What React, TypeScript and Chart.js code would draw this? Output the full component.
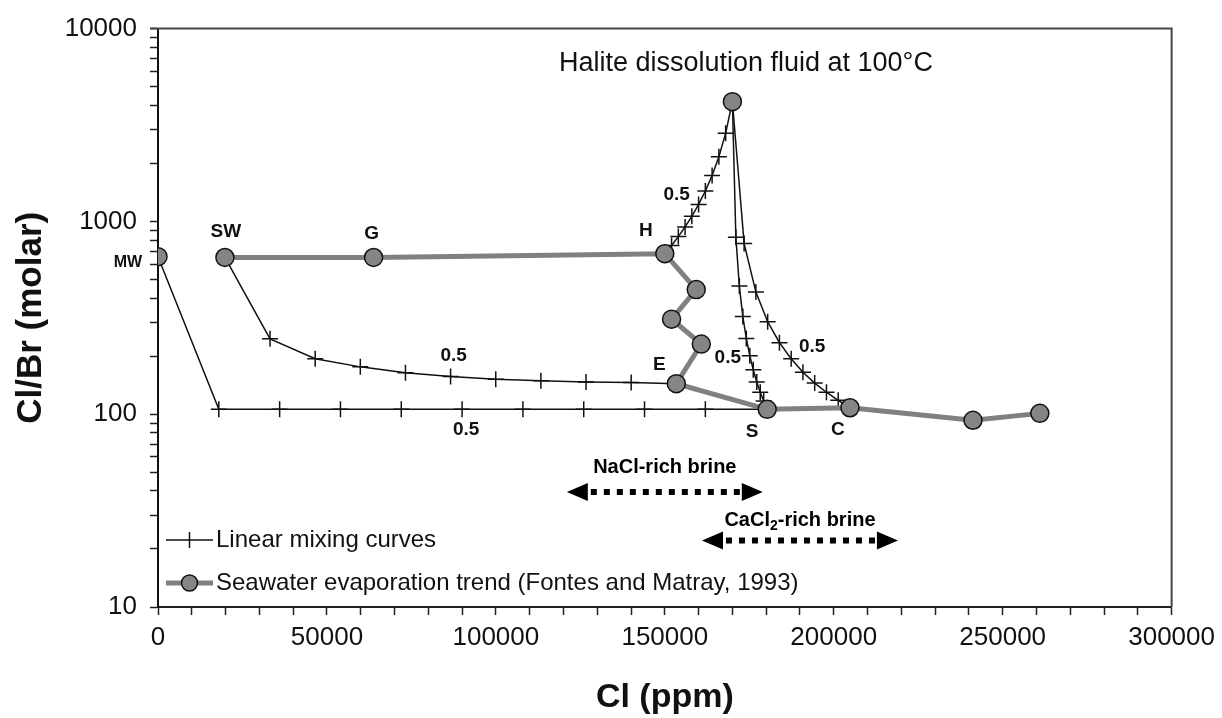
import React, { useEffect, useRef } from 'react';
import { Chart, registerables } from 'chart.js';

Chart.register(...registerables);

const FONT = '"Liberation Sans", Arial, Helvetica, sans-serif';

// ---------------- data (Cl in ppm, Cl/Br molar) ----------------
// Seawater evaporation trend (Fontes and Matray, 1993): SW, G, H, ..., E, S, C, ...
const trendCl = [19800, 63800, 150000, 159300, 152000, 160800, 153400, 180300, 204800, 241200, 261000];
const trendRatio = [650, 650, 680, 443, 311, 231, 144, 106, 108, 93, 101];

// isolated end-members: MW (meteoric water) and halite dissolution fluid at 100°C
const endCl = [0, 170000];
const endRatio = [656, 4180];

// linear mixing curves
const mixMwSCl = [0, 18000, 36000, 54000, 72000, 90000, 108000, 126000, 144000, 162000, 180300];
const mixMwSRatio = [656, 106, 106, 106, 106, 106, 106, 106, 106, 106, 106];

const mixSwECl = [19800, 33160, 46520, 59880, 73240, 86600, 99960, 113320, 126680, 140040, 153400];
const mixSwERatio = [650, 246, 194, 176, 164, 157, 152, 149, 147, 146, 144];

const mixHTCl = [150000, 152000, 154000, 156000, 158000, 160000, 162000, 164000, 166000, 168000, 170000];
const mixHTRatio = [680, 750, 834, 936, 1063, 1225, 1438, 1732, 2164, 2862, 4180];

const mixTSCl = [170000, 171030, 172060, 173090, 174120, 175150, 176180, 177210, 178240, 179270, 180300];
const mixTSRatio = [4180, 827, 462, 321, 247, 201, 170, 147, 130, 117, 106];

const mixTCCl = [170000, 173480, 176960, 180440, 183920, 187400, 190880, 194360, 197840, 201320, 204800];
const mixTCRatio = [4180, 767, 430, 302, 235, 194, 165, 145, 130, 118, 108];

// axis ticks
const xTickLabels = [0, 50000, 100000, 150000, 200000, 250000, 300000];
const xMinorStep = 10000;
const yTickLabels = [10, 100, 1000, 10000];

// point labels (data position of the point they name)
const pointLabelText = ['MW', 'SW', 'G', 'H', 'E', 'S', 'C', '0.5', '0.5', '0.5', '0.5', '0.5'];
const pointLabelCl = [0, 19800, 63800, 150000, 153400, 180300, 204800, 86600, 90000, 160000, 175150, 187400];
const pointLabelRatio = [656, 650, 650, 680, 144, 106, 108, 157, 106, 1225, 201, 194];
const pointLabelOffset = [[-30, 6], [1, -26], [-2, -24], [-19, -23], [-17, -19], [-15, 22], [-12, 22], [3, -21], [4, 20], [-22, -10], [-22, 2], [21, -12]];

// brine range arrows
const brineLabels = ['NaCl-rich brine', 'CaCl2-rich brine'];
const brineFrom = [121000, 161000];
const brineTo = [179000, 219000];
const brineRatio = [39.5, 22.1];

const titleText = 'Halite dissolution fluid at 100°C';
const legendTexts = ['Linear mixing curves', 'Seawater evaporation trend (Fontes and Matray, 1993)'];

const toXY = (xs: number[], ys: number[]) => xs.map((x, i) => ({ x, y: ys[i] }));

const mixDataset = (xs: number[], ys: number[]) => ({
  data: toXY(xs, ys),
  showLine: true,
  borderColor: '#111',
  borderWidth: 1.5,
  pointStyle: 'cross',
  pointBorderColor: '#111',
  pointBackgroundColor: '#111',
  pointBorderWidth: 1.5,
  pointRadius: xs.map((_, i) => (i === 0 || i === xs.length - 1 ? 0 : 8)),
  tension: 0,
  fill: false,
});

function drawArrow(ctx: CanvasRenderingContext2D, x1: number, x2: number, y: number) {
  const head = 21;
  const hh = 9;
  ctx.save();
  ctx.fillStyle = '#000';
  ctx.beginPath();
  ctx.moveTo(x1, y);
  ctx.lineTo(x1 + head, y - hh);
  ctx.lineTo(x1 + head, y + hh);
  ctx.closePath();
  ctx.fill();
  ctx.beginPath();
  ctx.moveTo(x2, y);
  ctx.lineTo(x2 - head, y - hh);
  ctx.lineTo(x2 - head, y + hh);
  ctx.closePath();
  ctx.fill();
  ctx.strokeStyle = '#000';
  ctx.lineWidth = 6;
  ctx.lineCap = 'butt';
  ctx.setLineDash([6, 7]);
  ctx.beginPath();
  ctx.moveTo(x1 + head + 3, y);
  ctx.lineTo(x2 - head - 1, y);
  ctx.stroke();
  ctx.restore();
}

function drawSubLabel(ctx: CanvasRenderingContext2D, text: string, cx: number, cy: number) {
  // renders a "2" after "CaCl" as subscript
  const big = `bold 20px ${FONT}`;
  const small = `bold 14px ${FONT}`;
  const idx = text.indexOf('2');
  ctx.save();
  ctx.textBaseline = 'middle';
  ctx.textAlign = 'left';
  ctx.fillStyle = '#000';
  if (idx < 0) {
    ctx.font = big;
    const w = ctx.measureText(text).width;
    ctx.fillText(text, cx - w / 2, cy);
  } else {
    const a = text.slice(0, idx);
    const b = text.slice(idx + 1);
    ctx.font = big;
    const wa = ctx.measureText(a).width;
    const wb = ctx.measureText(b).width;
    ctx.font = small;
    const ws = ctx.measureText('2').width;
    let x = cx - (wa + ws + wb) / 2;
    ctx.font = big;
    ctx.fillText(a, x, cy);
    x += wa;
    ctx.font = small;
    ctx.fillText('2', x, cy + 6);
    x += ws;
    ctx.font = big;
    ctx.fillText(b, x, cy);
  }
  ctx.restore();
}

const overlayPlugin = {
  id: 'overlay',
  afterDatasetsDraw(chart: any) {
    const { ctx, chartArea } = chart;
    const xs = chart.scales.x;
    const ys = chart.scales.y;
    ctx.save();
    // frame top & right
    ctx.strokeStyle = '#444';
    ctx.lineWidth = 2;
    ctx.beginPath();
    ctx.moveTo(chartArea.left - 8, chartArea.top);
    ctx.lineTo(chartArea.right, chartArea.top);
    ctx.lineTo(chartArea.right, chartArea.bottom);
    ctx.stroke();

    // title inside plot
    ctx.fillStyle = '#111';
    ctx.font = `27px ${FONT}`;
    ctx.textAlign = 'center';
    ctx.textBaseline = 'middle';
    ctx.fillText(titleText, xs.getPixelForValue(174000), chartArea.top + 35);

    // point labels
    ctx.font = `bold 19px ${FONT}`;
    pointLabelText.forEach((t, i) => {
      const px = xs.getPixelForValue(pointLabelCl[i]) + pointLabelOffset[i][0];
      const py = ys.getPixelForValue(pointLabelRatio[i]) + pointLabelOffset[i][1];
      ctx.font = t === 'MW' ? `bold 16px ${FONT}` : `bold 19px ${FONT}`;
      ctx.fillText(t, px, py);
    });

    // brine arrows
    brineLabels.forEach((t, i) => {
      const x1 = xs.getPixelForValue(brineFrom[i]);
      const x2 = xs.getPixelForValue(brineTo[i]);
      const y = ys.getPixelForValue(brineRatio[i]);
      drawArrow(ctx, x1, x2, y);
      drawSubLabel(ctx, t, (x1 + x2) / 2, y - (i === 0 ? 24 : 20));
    });

    // legend
    const lx0 = chartArea.left + 8;
    const lx1 = chartArea.left + 55;
    const lxc = (lx0 + lx1) / 2;
    const ly1 = 540;
    const ly2 = 583;
    ctx.strokeStyle = '#111';
    ctx.lineWidth = 1.5;
    ctx.beginPath();
    ctx.moveTo(lx0, ly1);
    ctx.lineTo(lx1, ly1);
    ctx.moveTo(lxc, ly1 - 8);
    ctx.lineTo(lxc, ly1 + 8);
    ctx.stroke();
    ctx.strokeStyle = '#808080';
    ctx.lineWidth = 5;
    ctx.beginPath();
    ctx.moveTo(lx0, ly2);
    ctx.lineTo(lx1, ly2);
    ctx.stroke();
    ctx.beginPath();
    ctx.arc(lxc, ly2, 8, 0, Math.PI * 2);
    ctx.fillStyle = '#858585';
    ctx.fill();
    ctx.strokeStyle = '#111';
    ctx.lineWidth = 1.5;
    ctx.stroke();
    ctx.fillStyle = '#111';
    ctx.font = `24px ${FONT}`;
    ctx.textAlign = 'left';
    ctx.textBaseline = 'middle';
    ctx.fillText(legendTexts[0], lx1 + 3, ly1);
    ctx.fillText(legendTexts[1], lx1 + 3, ly2);
    ctx.restore();
  },
};

export default function App() {
  const ref = useRef<HTMLCanvasElement | null>(null);

  useEffect(() => {
    if (!ref.current) return;
    const chart = new Chart(ref.current, {
      type: 'scatter',
      data: {
        datasets: [
          {
            data: toXY(endCl, endRatio),
            showLine: false,
            pointStyle: 'circle',
            pointRadius: 9,
            pointBackgroundColor: '#858585',
            pointBorderColor: '#111',
            pointBorderWidth: 1.5,
          },
          {
            data: toXY(trendCl, trendRatio),
            showLine: true,
            borderColor: '#808080',
            borderWidth: 5,
            pointStyle: 'circle',
            pointRadius: 9,
            pointBackgroundColor: '#858585',
            pointBorderColor: '#111',
            pointBorderWidth: 1.5,
            tension: 0,
          },
          mixDataset(mixMwSCl, mixMwSRatio),
          mixDataset(mixSwECl, mixSwERatio),
          mixDataset(mixHTCl, mixHTRatio),
          mixDataset(mixTSCl, mixTSRatio),
          mixDataset(mixTCCl, mixTCRatio),
        ] as any,
      },
      options: {
        responsive: false,
        animation: false,
        layout: { padding: { top: 24, right: 49, left: 0, bottom: 0 } },
        plugins: {
          legend: { display: false },
          tooltip: { enabled: false },
          title: { display: false },
        },
        scales: {
          x: {
            type: 'linear',
            min: 0,
            max: 300000,
            afterFit: (s: any) => {
              s.height = 111;
            },
            afterBuildTicks: (s: any) => {
              const t: any[] = [];
              for (let v = xTickLabels[0]; v <= xTickLabels[xTickLabels.length - 1]; v += xMinorStep) {
                t.push({ value: v });
              }
              s.ticks = t;
            },
            ticks: {
              autoSkip: false,
              maxRotation: 0,
              minRotation: 0,
              padding: 7,
              color: '#111',
              font: { family: FONT, size: 26 },
              callback: (v: any) => (xTickLabels.includes(Number(v)) ? String(v) : ''),
            },
            grid: {
              display: true,
              drawOnChartArea: false,
              drawTicks: true,
              tickLength: 8,
              tickColor: '#222',
              tickWidth: 1.5,
            },
            border: { display: true, color: '#222', width: 2 },
            title: {
              display: true,
              text: 'Cl (ppm)',
              color: '#111',
              font: { family: FONT, size: 34, weight: 'bold' },
              padding: { top: 0, bottom: 0 },
            },
          },
          y: {
            type: 'logarithmic',
            min: 10,
            max: 10000,
            afterFit: (s: any) => {
              s.width = 158;
            },
            afterBuildTicks: (s: any) => {
              const t: any[] = [];
              yTickLabels.forEach((base, d) => {
                t.push({ value: base, major: true });
                if (d < yTickLabels.length - 1) {
                  for (let m = 2; m <= 9; m++) t.push({ value: base * m });
                }
              });
              s.ticks = t;
            },
            ticks: {
              autoSkip: false,
              padding: 13,
              color: '#111',
              font: { family: FONT, size: 26 },
              callback: (v: any) => (yTickLabels.includes(Number(v)) ? String(v) : ''),
            },
            grid: {
              display: true,
              drawOnChartArea: false,
              drawTicks: true,
              tickLength: 8,
              tickColor: '#222',
              tickWidth: 1.5,
            },
            border: { display: true, color: '#111', width: 2 },
            title: {
              display: true,
              text: 'Cl/Br (molar)',
              color: '#111',
              font: { family: FONT, size: 35, weight: 'bold' },
              padding: { top: 10, bottom: 0 },
            },
          },
        },
      } as any,
      plugins: [overlayPlugin],
    });
    return () => chart.destroy();
  }, []);

  return (
    <div style={{ position: 'absolute', left: 0, top: 0, width: 1222, height: 718, background: '#fff' }}>
      <canvas ref={ref} width={1222} height={718} style={{ display: 'block' }} />
    </div>
  );
}
